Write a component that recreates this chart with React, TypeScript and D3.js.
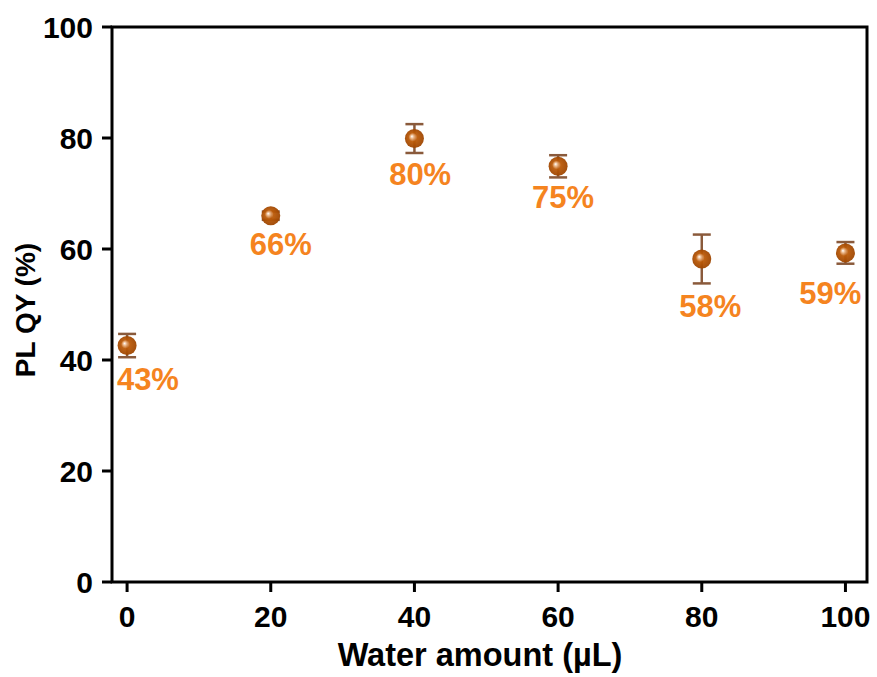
import React from "react";
import * as d3 from "d3";

// Water volume added (µL)
const waterAmount = [0, 20, 40, 60, 80, 100];
// Photoluminescence quantum yield (%) and its standard deviation
const plqy = [42.6, 66.0, 79.9, 74.9, 58.2, 59.3];
const plqyErr = [2.1, 0.75, 2.6, 2.0, 4.4, 1.95];
// Where each percentage label sits (data coordinates, label centre)
const labelX = [2.9, 21.4, 40.8, 60.7, 81.2, 97.9];
const labelY = [36.4, 60.9, 73.5, 69.3, 49.7, 51.9];

const xTicks = [0, 20, 40, 60, 80, 100];
const yTicks = [0, 20, 40, 60, 80, 100];

const W = 877;
const H = 677;
const margin = { left: 112, right: 10, top: 27, bottom: 95 };
const FONT = "'Liberation Sans', Arial, Helvetica, sans-serif";

export default function App() {
  const x = d3.scaleLinear().domain([-2.1, 103]).range([margin.left, W - margin.right]);
  const y = d3.scaleLinear().domain([0, 100]).range([H - margin.bottom, margin.top]);
  const x0 = margin.left;
  const x1 = W - margin.right;
  const y0 = H - margin.bottom;
  const y1 = margin.top;
  const axisColor = "#000";
  const errColor = "#8a5a3b";
  const labelColor = "#f5841f";
  const cap = 9;
  const r = 9.5;

  return (
    <svg
      width={W}
      height={H}
      style={{ position: "absolute", left: 0, top: 0, background: "#fff" }}
      fontFamily={FONT}
    >
      <defs>
        <radialGradient id="ball" cx="50%" cy="50%" r="55%" fx="36%" fy="38%">
          <stop offset="0%" stopColor="#ffffff" />
          <stop offset="15%" stopColor="#efbf95" />
          <stop offset="42%" stopColor="#bb5a08" />
          <stop offset="100%" stopColor="#9a4300" />
        </radialGradient>
      </defs>

      {/* frame */}
      <rect
        x={x0}
        y={y1}
        width={x1 - x0}
        height={y0 - y1}
        fill="none"
        stroke={axisColor}
        strokeWidth={3}
      />

      {/* y ticks */}
      {yTicks.map((t) => (
        <g key={"y" + t}>
          <line x1={x0 - 10} x2={x0} y1={y(t)} y2={y(t)} stroke={axisColor} strokeWidth={3} />
          <text
            x={x0 - 19}
            y={y(t)}
            textAnchor="end"
            dominantBaseline="central"
            fontSize={30}
            fontWeight="bold"
          >
            {t}
          </text>
        </g>
      ))}

      {/* x ticks */}
      {xTicks.map((t) => (
        <g key={"x" + t}>
          <line x1={x(t)} x2={x(t)} y1={y0} y2={y0 + 10} stroke={axisColor} strokeWidth={3} />
          <text x={x(t)} y={y0 + 45} textAnchor="middle" fontSize={30} fontWeight="bold">
            {t}
          </text>
        </g>
      ))}

      {/* axis titles */}
      <text x={480} y={666} textAnchor="middle" fontSize={32.5} fontWeight="bold">
        Water amount (µL)
      </text>
      <text
        transform={`translate(35, 310) rotate(-90)`}
        textAnchor="middle"
        fontSize={28}
        fontWeight="bold"
      >
        PL QY (%)
      </text>

      {/* error bars */}
      {waterAmount.map((w, i) => {
        const cx = x(w);
        const top = y(plqy[i] + plqyErr[i]);
        const bot = y(plqy[i] - plqyErr[i]);
        return (
          <g key={"e" + i} stroke={errColor} strokeWidth={2.5}>
            <line x1={cx} x2={cx} y1={top} y2={bot} />
            <line x1={cx - cap} x2={cx + cap} y1={top} y2={top} />
            <line x1={cx - cap} x2={cx + cap} y1={bot} y2={bot} />
          </g>
        );
      })}

      {/* markers */}
      {waterAmount.map((w, i) => (
        <circle key={"m" + i} cx={x(w)} cy={y(plqy[i])} r={r} fill="url(#ball)" opacity={0.95} />
      ))}

      {/* value labels */}
      {waterAmount.map((w, i) => (
        <text
          key={"l" + i}
          x={x(labelX[i])}
          y={y(labelY[i])}
          textAnchor="middle"
          dominantBaseline="central"
          fontSize={31}
          fontWeight="bold"
          fill={labelColor}
        >
          {`${Math.round(plqy[i])}%`}
        </text>
      ))}
    </svg>
  );
}
